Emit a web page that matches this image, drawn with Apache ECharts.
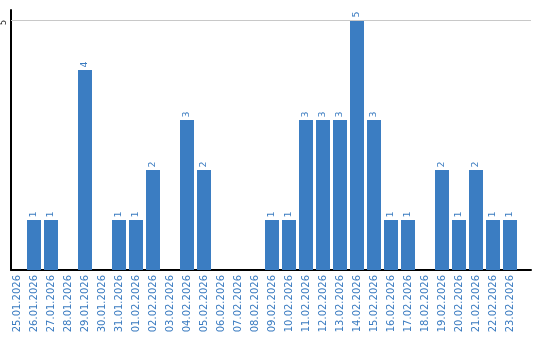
<!DOCTYPE html>
<html>
<head>
<meta charset="utf-8">
<script src="https://cdn.jsdelivr.net/npm/echarts@6/dist/echarts.min.js"></script>
<style>html,body{margin:0;padding:0;background:#fff}#c{width:540px;height:340px}</style>
</head>
<body>
<div id="c"></div>
<script>
var categories = ["25.01.2026","26.01.2026","27.01.2026","28.01.2026","29.01.2026","30.01.2026","31.01.2026","01.02.2026","02.02.2026","03.02.2026","04.02.2026","05.02.2026","06.02.2026","07.02.2026","08.02.2026","09.02.2026","10.02.2026","11.02.2026","12.02.2026","13.02.2026","14.02.2026","15.02.2026","16.02.2026","17.02.2026","18.02.2026","19.02.2026","20.02.2026","21.02.2026","22.02.2026","23.02.2026"];
var values = [0,1,1,0,4,0,1,1,2,0,3,2,0,0,0,1,1,3,3,3,5,3,1,1,0,2,1,2,1,1];
var yTicks = [5];

var chart = echarts.init(document.getElementById('c'), null, {renderer:'canvas'});
var blue = '#3b7dc2';
chart.setOption({
  animation:false,
  grid:[
    {left:8.5, width:510, top:10, bottom:70, containLabel:false},
    {left:11, right:9, top:10, bottom:70, containLabel:false}
  ],
  xAxis:[
    {gridIndex:0, type:'category', data:categories, boundaryGap:true,
     axisLine:{show:false}, axisTick:{show:false},
     axisLabel:{interval:0, rotate:90, margin:5, color:'#3a7bc0', fontFamily:'DejaVu Sans', fontSize:10}},
    {gridIndex:1, type:'category', data:categories, axisLine:{show:true, lineStyle:{color:'#000', width:2}},
     axisTick:{show:false}, axisLabel:{show:false}, splitLine:{show:false}}
  ],
  yAxis:[
    {gridIndex:0, type:'value', min:0, max:5.2, show:false},
    {gridIndex:1, type:'value', min:0, max:5.2, interval:5,
     axisLine:{show:true, lineStyle:{color:'#000', width:2}}, axisTick:{show:false},
     splitLine:{show:false},
     axisLabel:{rotate:90, margin:3, align:'right', verticalAlign:'bottom', color:'#222', fontFamily:'DejaVu Sans', fontSize:8,
       formatter:function(v){return yTicks.indexOf(v)>=0 ? String(v) : '';}}}
  ],
  series:[
    {type:'bar', xAxisIndex:0, yAxisIndex:0, data:values.map(function(v){return v===0?null:v;}), barWidth:14,
     itemStyle:{color:blue},
     label:{show:true, position:'top', distance:2.5, rotate:90, align:'left', verticalAlign:'middle',
       color:'#3a7bc0', fontFamily:'DejaVu Sans', fontSize:9.5}},
    {type:'line', xAxisIndex:1, yAxisIndex:1, data:[], z:1,
     markLine:{silent:true, symbol:'none', label:{show:false},
       lineStyle:{color:'#c8c8c8', width:1, type:'solid'},
       data: yTicks.map(function(t){return {yAxis:t};})}}
  ]
});
</script>
</body>
</html>
